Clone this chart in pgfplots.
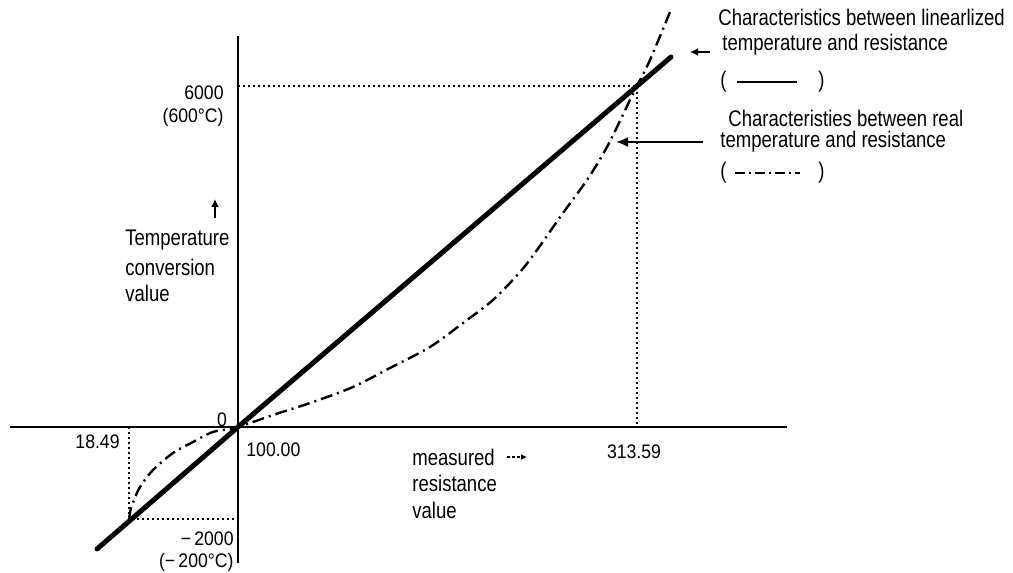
\documentclass[border=0pt]{standalone}
\usepackage{fontspec}
\setmainfont{Liberation Sans}[FakeStretch=0.82]
\newfontfamily\numfont{Liberation Sans}[FakeStretch=0.9]
\usepackage{pgfplots}
\pgfplotsset{compat=1.18}
\usetikzlibrary{arrows.meta}

\begin{document}
\begin{tikzpicture}[
  txt/.style={inner sep=0pt, font=\fontsize{11.3}{13}\selectfont},
  num/.style={inner sep=0pt, font=\numfont\fontsize{9.8}{11}\selectfont},
  dots/.style={line width=0.8pt, dash pattern=on 0.8pt off 1.7pt},
  dashdot/.style={line width=1.2pt, dash pattern=on 6pt off 2.5pt on 1pt off 2.5pt},
]
\begin{axis}[
  width=506.5pt, height=286.5pt, scale only axis,
  xmin=-238, xmax=775, ymin=-146, ymax=427,
  hide axis, clip=false,
]
\path (rel axis cs:0,0) rectangle (rel axis cs:1,1);

% axes
\addplot[line width=1pt, no marks] coordinates {(0,-136) (0,391)};
\addplot[line width=1pt, no marks] coordinates {(-228,0) (549,0)};

% dotted reference lines
\addplot[dots, no marks] coordinates {(0,341) (399,341) (399,0)};
\addplot[dots, no marks] coordinates {(-109,0) (-109,-92) (0,-92)};

% real characteristic (dash-dot)
\addplot[dashdot, no marks, smooth, tension=0.5] coordinates {
(-109,-92) (-107,-81) (-104,-73) (-98,-60) (-85,-43) (-65,-26) (-45,-15) (-25,-5)
(0,0) (35,12) (75,25) (115,40) (152,59) (192,80) (225,104) (255,127) (282,155)
(299,177) (325,214) (349,247) (369,280) (392,327) (399,341) (412,367) (432,415)
};

% linearized characteristic (solid)
\addplot[line width=2.5pt, no marks, line cap=round] coordinates {(-141,-122) (0,0) (433,370)};

% tick-like labels
\node[num, anchor=center] at (axis cs:-16,7) {0};
\node[num, anchor=east] at (axis cs:-118,-15) {18.49};
\node[num, anchor=west] at (axis cs:8,-23) {100.00};
\node[num, anchor=center] at (axis cs:396,-25) {313.59};
\node[num, anchor=east] at (axis cs:-4,-112) {−\,2000};
\node[num, anchor=east] at (axis cs:-4,-135) {(−\,200°C)};
\node[num, anchor=east] at (axis cs:-14,334) {6000};
\node[num, anchor=east] at (axis cs:-14,310) {(600°C)};

% y label
\draw[line width=1.3pt, -{Latex[length=4pt,width=4pt]}] (axis cs:-23,209) -- (axis cs:-23,228);
\node[txt, anchor=west] at (axis cs:-113,187) {Temperature};
\node[txt, anchor=west] at (axis cs:-113,160) {conversion};
\node[txt, anchor=west] at (axis cs:-113,134) {value};

% x label
\node[txt, anchor=west] at (axis cs:174,-30) {measured};
\node[txt, anchor=west] at (axis cs:174,-56) {resistance};
\node[txt, anchor=west] at (axis cs:174,-83) {value};
\draw[line width=0.6pt, dash pattern=on 1.5pt off 1pt, -{Latex[length=3pt,width=3pt]}] (axis cs:269,-30) -- (axis cs:289,-30);

% annotations on the right
\node[txt, anchor=west] at (axis cs:480,410) {Characteristics between linearlized};
\node[txt, anchor=west] at (axis cs:484,382) {temperature and resistance};
\draw[line width=1.2pt, -{Latex[length=4pt,width=4pt]}] (axis cs:472,375) -- (axis cs:452,375);
\node[txt, anchor=west] at (axis cs:482,345) {(};
\draw[line width=1pt] (axis cs:499,345) -- (axis cs:559,345);
\node[txt, anchor=west] at (axis cs:580,345) {)};

\node[txt, anchor=west] at (axis cs:490,309) {Characteristies between real};
\node[txt, anchor=west] at (axis cs:482,285) {temperature and resistance};
\draw[line width=1pt, -{Latex[length=6pt,width=5pt]}] (axis cs:465,285) -- (axis cs:378,285);
\node[txt, anchor=west] at (axis cs:482,254) {(};
\draw[line width=1pt, dash pattern=on 5pt off 2pt on 1pt off 2pt] (axis cs:497,254) -- (axis cs:562,254);
\node[txt, anchor=west] at (axis cs:580,254) {)};
\end{axis}
\end{tikzpicture}
\end{document}
